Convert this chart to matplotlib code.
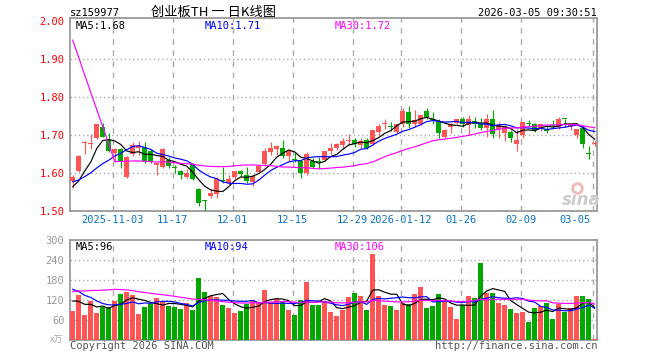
import matplotlib
matplotlib.use('Agg')
import matplotlib.pyplot as plt
import numpy as np
import pandas as pd

symbol = 'sz159977'
title = '创业板TH 一 日K线图'
stamp = '2026-03-05 09:30:51'

# trading days shown (exchange holidays removed)
holidays = ['2026-01-01', '2026-01-02', '2026-02-16', '2026-02-17', '2026-02-18',
            '2026-02-19', '2026-02-20', '2026-02-23']
dates = pd.bdate_range('2025-10-23', '2026-03-05')
dates = dates[~dates.isin(pd.to_datetime(holidays))]

opens = [1.579, 1.604, 1.678, 1.676, 1.691, 1.722, 1.687, 1.652, 1.662, 1.590,
         1.649, 1.666, 1.669, 1.658, 1.621, 1.617, 1.634, 1.613, 1.606, 1.590,
         1.623, 1.557, 1.527, 1.540, 1.546, 1.580, 1.575, 1.590, 1.604, 1.595,
         1.577, 1.602, 1.623, 1.654, 1.663, 1.667, 1.644, 1.635, 1.632, 1.599,
         1.632, 1.630, 1.634, 1.659, 1.666, 1.675, 1.683, 1.687, 1.675, 1.687,
         1.676, 1.708, 1.730, 1.722, 1.709, 1.728, 1.761, 1.729, 1.729, 1.764,
         1.741, 1.734, 1.696, 1.720, 1.731, 1.742, 1.727, 1.737, 1.728, 1.718,
         1.741, 1.715, 1.706, 1.707, 1.676, 1.700, 1.732, 1.728, 1.715, 1.717,
         1.726, 1.721, 1.742, 1.722, 1.700, 1.718, 1.651, 1.676]
highs = [1.595, 1.648, 1.684, 1.703, 1.728, 1.732, 1.705, 1.665, 1.666, 1.645,
         1.682, 1.685, 1.682, 1.663, 1.627, 1.666, 1.643, 1.621, 1.607, 1.610,
         1.627, 1.560, 1.530, 1.559, 1.590, 1.616, 1.595, 1.605, 1.609, 1.615,
         1.596, 1.619, 1.665, 1.681, 1.675, 1.688, 1.664, 1.654, 1.634, 1.654,
         1.639, 1.643, 1.658, 1.678, 1.679, 1.692, 1.702, 1.692, 1.692, 1.693,
         1.713, 1.729, 1.742, 1.733, 1.730, 1.772, 1.776, 1.766, 1.754, 1.772,
         1.761, 1.741, 1.716, 1.731, 1.742, 1.748, 1.752, 1.747, 1.746, 1.755,
         1.766, 1.733, 1.726, 1.713, 1.717, 1.735, 1.740, 1.731, 1.730, 1.726,
         1.739, 1.748, 1.742, 1.731, 1.717, 1.726, 1.671, 1.683]
lows = [1.560, 1.602, 1.649, 1.663, 1.690, 1.695, 1.655, 1.630, 1.614, 1.588,
        1.644, 1.647, 1.626, 1.626, 1.596, 1.613, 1.613, 1.599, 1.584, 1.587,
        1.581, 1.514, 1.500, 1.535, 1.535, 1.575, 1.568, 1.585, 1.590, 1.573,
        1.567, 1.600, 1.619, 1.647, 1.647, 1.640, 1.630, 1.628, 1.588, 1.595,
        1.614, 1.614, 1.632, 1.651, 1.660, 1.666, 1.675, 1.668, 1.666, 1.664,
        1.674, 1.701, 1.715, 1.710, 1.706, 1.722, 1.718, 1.722, 1.727, 1.741,
        1.729, 1.692, 1.692, 1.705, 1.730, 1.722, 1.699, 1.718, 1.712, 1.696,
        1.692, 1.693, 1.685, 1.682, 1.659, 1.691, 1.724, 1.709, 1.710, 1.706,
        1.718, 1.715, 1.722, 1.714, 1.693, 1.665, 1.636, 1.671]
closes = [1.590, 1.646, 1.680, 1.677, 1.728, 1.696, 1.659, 1.663, 1.630, 1.643,
          1.674, 1.670, 1.630, 1.630, 1.626, 1.663, 1.619, 1.612, 1.596, 1.601,
          1.583, 1.520, 1.526, 1.548, 1.584, 1.578, 1.584, 1.605, 1.597, 1.579,
          1.593, 1.618, 1.659, 1.667, 1.671, 1.646, 1.659, 1.634, 1.599, 1.651,
          1.617, 1.628, 1.658, 1.665, 1.676, 1.683, 1.687, 1.676, 1.685, 1.667,
          1.713, 1.725, 1.732, 1.721, 1.730, 1.763, 1.729, 1.740, 1.752, 1.748,
          1.740, 1.704, 1.713, 1.729, 1.741, 1.729, 1.741, 1.728, 1.718, 1.742,
          1.702, 1.726, 1.722, 1.693, 1.687, 1.735, 1.730, 1.712, 1.728, 1.711,
          1.724, 1.743, 1.741, 1.726, 1.715, 1.676, 1.650, 1.678]
volumes = [87, 135, 75, 118, 81, 100, 100, 118, 138, 144,
           134, 78, 100, 107, 126, 113, 102, 100, 93, 112,
           90, 186, 144, 132, 130, 105, 96, 81, 87, 108,
           119, 114, 150, 115, 122, 113, 90, 75, 119, 174,
           105, 105, 118, 84, 73, 90, 129, 141, 132, 90,
           258, 132, 105, 102, 90, 111, 108, 138, 159, 96,
           102, 138, 120, 99, 63, 105, 132, 126, 231, 141,
           141, 111, 105, 93, 81, 84, 54, 96, 102, 111,
           63, 108, 84, 96, 132, 132, 123, 3]

# sessions before the window, only used to start the moving averages
pre_close = [3.02, 3.06, 3.04, 3.08, 3.05, 3.03, 3.06,
             1.62, 1.63, 1.65, 1.66, 1.67, 1.66, 1.65, 1.64, 1.65, 1.66, 1.64, 1.63, 1.625,
             1.60, 1.59, 1.58, 1.60, 1.58,
             1.57, 1.55, 1.56, 1.55]
pre_volume = [70, 78, 72, 80, 74, 68, 75,
              160, 175, 190, 185, 170, 180, 195, 172, 168, 176, 182, 185, 175,
              200, 190, 180, 185, 180,
              140, 120, 118, 120]

tick_dates = ['2025-11-03', '2025-11-17', '2025-12-01', '2025-12-15', '2025-12-29',
              '2026-01-12', '2026-01-26', '2026-02-09', '2026-03-05']
tick_labels = ['2025-11-03', '11-17', '12-01', '12-15', '12-29',
               '2026-01-12', '01-26', '02-09', '03-05']

price_ticks = [1.50, 1.60, 1.70, 1.80, 1.90, 2.00]
volume_ticks = [60, 120, 180, 240, 300]
price_legend = ['MA5:1.68', 'MA10:1.71', 'MA30:1.72']
volume_legend = ['MA5:96', 'MA10:94', 'MA30:106']

RED = '#ff5555'
GREEN = '#00a800'
MA_COLORS = ['#000000', '#0000ff', '#ff00ff']
GRID = '#aaaaaa'
FRAME = '#9a9a9a'
MONO = 'DejaVu Sans Mono'
CJK = ['Noto Sans CJK SC', 'DejaVu Sans']


def moving_averages(pre, values):
    s = pd.Series(list(pre) + list(values), dtype=float)
    return [s.rolling(n).mean().iloc[len(pre):].values for n in (5, 10, 30)]


o = np.array(opens)
h = np.array(highs)
l = np.array(lows)
c = np.array(closes)
v = np.array(volumes)
x = np.arange(len(c))
colors = np.where(c >= o, RED, GREEN)

price_ma = moving_averages(pre_close, closes)
volume_ma = moving_averages(pre_volume, volumes)

W, H = 660, 360
fig = plt.figure(figsize=(6.6, 3.6), dpi=100)
ax = fig.add_axes([70 / W, 1 - 211 / H, 527 / W, 193 / H])
axv = fig.add_axes([70 / W, 1 - 340 / H, 527 / W, 100 / H])

xlim = (-0.45, 87.38)
tick_pos = [list(dates).index(pd.Timestamp(d)) - 0.33 for d in tick_dates]

# price panel
ax.vlines(x, l, h, colors=colors, lw=0.8, zorder=3)
ax.bar(x, np.maximum(np.abs(c - o), 0.0025), bottom=np.minimum(o, c),
       width=0.88, color=colors, lw=0, zorder=3)
for ma, col in zip(price_ma, MA_COLORS):
    ax.plot(x, ma, color=col, lw=0.85, zorder=4)

ax.set_xlim(*xlim)
ax.set_ylim(1.50, 2.008)
for p in price_ticks[1:-1]:
    ax.axhline(p, color=GRID, lw=1, ls=(0, (1, 2)), zorder=1)
ax.set_yticks(price_ticks, ['%.2f' % p for p in price_ticks])
ax.set_xticks([])
ax.tick_params(axis='y', length=0, pad=4, labelcolor='#ff0000', labelsize=7.5)
for t in ax.get_yticklabels():
    t.set_family(MONO)
for i, (pos, lab) in enumerate(zip(tick_pos, tick_labels)):
    last = i == len(tick_pos) - 1
    ax.text(pos - (0.4 if last else 0), -0.048, lab, transform=ax.get_xaxis_transform(),
            ha='right' if last else 'center', va='center', color='#0a72c8',
            fontsize=7.5, family=MONO)

for xs, lab, col in zip([0.01, 0.256, 0.503], price_legend, MA_COLORS):
    ax.text(xs, 0.958, lab, transform=ax.transAxes, va='center', ha='left',
            color=col, fontsize=7.5, family=MONO)

# volume panel
axv.bar(x, v, width=0.88, color=colors, lw=0, zorder=3)
for ma, col in zip(volume_ma, MA_COLORS):
    axv.plot(x, ma, color=col, lw=0.85, zorder=4)
axv.set_xlim(*xlim)
axv.set_ylim(0, 300)
for p in volume_ticks[:-1]:
    axv.axhline(p, color=GRID, lw=1, ls=(0, (1, 2)), zorder=1)
axv.set_yticks(volume_ticks, [str(p) for p in volume_ticks])
axv.set_xticks([])
axv.tick_params(axis='y', length=0, pad=4, labelcolor='#999999', labelsize=7.5)
for t in axv.get_yticklabels():
    t.set_family(MONO)
axv.text(-0.012, 0.0, 'x万', transform=axv.transAxes, ha='right', va='center',
         color='#aaaaaa', fontsize=6.5, family=CJK)
for xs, lab, col in zip([0.01, 0.256, 0.503], volume_legend, MA_COLORS):
    axv.text(xs, 0.935, lab, transform=axv.transAxes, va='center', ha='left',
             color=col, fontsize=7.5, family=MONO)

for a in (ax, axv):
    for pos in tick_pos:
        a.axvline(pos, color=GRID, lw=1, ls=(0, (4, 4)), zorder=1)
    for s in a.spines.values():
        s.set_color(FRAME)
        s.set_linewidth(1.3)

# header, footer, watermark
fig.text(70 / W, 1 - 13 / H, symbol, ha='left', va='center', fontsize=7.5, family=MONO)
fig.text(213 / W, 1 - 12 / H, title, ha='center', va='center', fontsize=9.5, family=CJK)
fig.text(597 / W, 1 - 13 / H, stamp, ha='right', va='center', fontsize=7.5, family=MONO)
fig.text(70 / W, 1 - 346 / H, 'Copyright 2026 SINA.COM', ha='left', va='center',
         fontsize=7.5, family=MONO, color='#555555')
fig.text(597 / W, 1 - 346 / H, 'http://finance.sina.com.cn', ha='right', va='center',
         fontsize=7.5, family=MONO, color='#555555')
fig.text(581 / W, 1 - 200 / H, 'sina', ha='center', va='center', fontsize=12,
         style='italic', weight='bold', color='#cccccc')
ax.plot([577 / W], [1 - 188 / H], marker='o', ms=7, mfc='none', mec='#f2b8b8', mew=2,
        transform=fig.transFigure, clip_on=False, zorder=2)

fig.savefig('out.png', dpi=100)
